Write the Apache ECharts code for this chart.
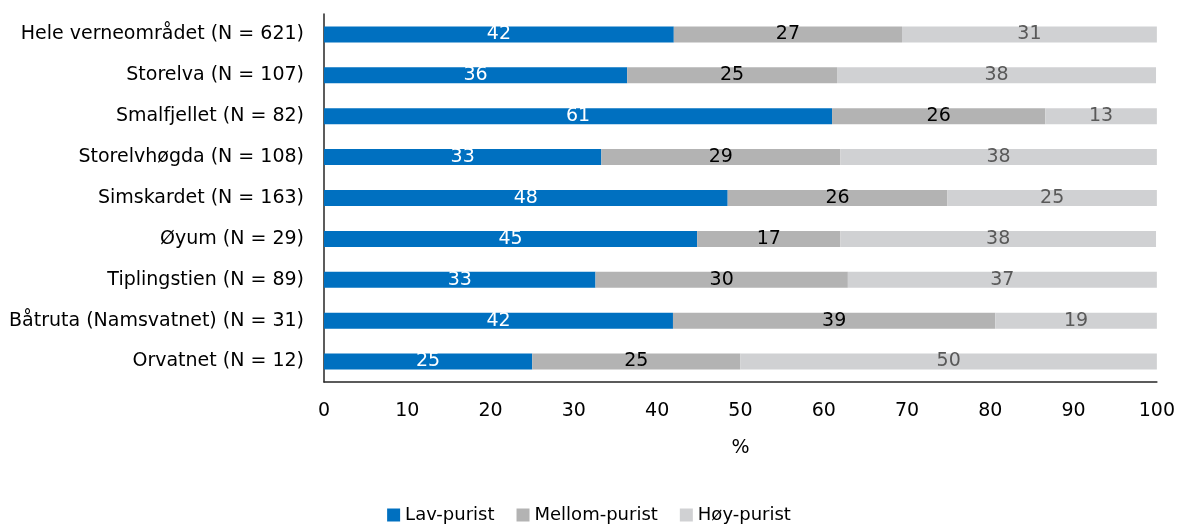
<!DOCTYPE html>
<html><head><meta charset="utf-8">
<script src="https://cdn.jsdelivr.net/npm/echarts@6/dist/echarts.min.js"></script>
<style>html,body{margin:0;padding:0;background:#fff}#c{width:1178px;height:525px}</style>
</head><body><div id="c"></div>
<script>
const categories = ["Hele verneområdet (N = 621)","Storelva (N = 107)","Smalfjellet (N = 82)","Storelvhøgda (N = 108)","Simskardet (N = 163)","Øyum (N = 29)","Tiplingstien (N = 89)","Båtruta (Namsvatnet) (N = 31)","Orvatnet (N = 12)"];
const lavPurist    = [42.0, 36.4, 61.0, 33.3, 48.47, 44.8, 32.6, 41.9, 25.0];
const mellomPurist = [27.4, 25.2, 25.6, 28.7, 26.38, 17.2, 30.3, 38.7, 25.0];
const hoyPurist    = [30.6, 38.3, 13.4, 38.0, 25.15, 37.9, 37.1, 19.4, 50.0];
const xTicks = [0,10,20,30,40,50,60,70,80,90,100];

const FONT = "DejaVu Sans";
const FS = 19;
const chart = echarts.init(document.getElementById('c'), null, {renderer:'canvas'});
function mk(name, data, color, labelColor){
  return {name, type:'bar', stack:'s', data, barWidth:16,
    itemStyle:{color},
    label:{show:true, position:'inside', color:labelColor, fontFamily:FONT, fontSize:FS,
      formatter:p=>Math.round(p.value)},
    emphasis:{disabled:true}};
}
chart.setOption({
  animation:false,
  textStyle:{fontFamily:FONT},
  grid:{left:324, right:21, top:14, bottom:143, containLabel:false},
  xAxis:{type:'value', min:xTicks[0], max:xTicks[xTicks.length-1], interval:10,
    name:'%', nameLocation:'middle', nameGap:57,
    nameTextStyle:{fontFamily:FONT, fontSize:FS, color:'#000'},
    axisLine:{show:true, lineStyle:{color:'#262626', width:1.5}},
    axisTick:{show:false}, splitLine:{show:false},
    axisLabel:{fontFamily:FONT, fontSize:FS, color:'#000', margin:20}},
  yAxis:{type:'category', data:categories, inverse:true,
    axisLine:{show:true, lineStyle:{color:'#262626', width:1.5}},
    axisTick:{show:false},
    axisLabel:{fontFamily:FONT, fontSize:FS, color:'#000', margin:20}},
  legend:{bottom:-4, left:'center', itemWidth:13, itemHeight:13, itemGap:22,
    icon:'rect', textStyle:{fontFamily:FONT, fontSize:18, color:'#000'}},
  series:[
    mk('Lav-purist', lavPurist, '#0070C0', '#fff'),
    mk('Mellom-purist', mellomPurist, '#B3B3B3', '#000'),
    mk('Høy-purist', hoyPurist, '#D0D1D3', '#595959')
  ]
});
</script></body></html>
